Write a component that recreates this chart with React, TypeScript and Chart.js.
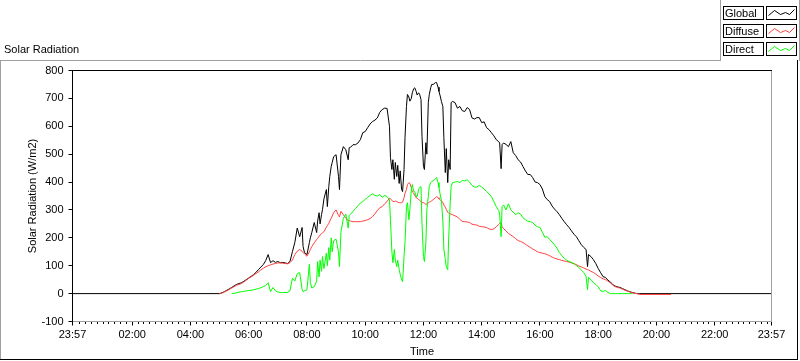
import React, { useEffect, useRef } from "react";
import { Chart, registerables } from "chart.js";

Chart.register(...registerables);

const FONT = "'Liberation Sans', Arial, sans-serif";

const chartTitle = "Solar Radiation";
const yAxisTitle = "Solar Radiation (W/m2)";
const xAxisTitle = "Time";
const seriesNames = ["Global", "Diffuse", "Direct"];
const seriesColors = ["#000000", "#ff3f3f", "#00ff00"];

const axisStart = "23:57"; // previous day
const axisEnd = "23:57";
const xTickLabels = ["23:57", "02:00", "04:00", "06:00", "08:00", "10:00", "12:00", "14:00", "16:00", "18:00", "20:00", "22:00", "23:57"];
const yTickValues = [-100, 0, 100, 200, 300, 400, 500, 600, 700, 800];
const minorTickMinutes = 12;

const times = [
  "05:00", "05:05", "05:10", "05:15", "05:20", "05:25", "05:30", "05:35", "05:40", "05:45", "05:50", "05:55",
  "06:00", "06:05", "06:10", "06:15", "06:20", "06:25", "06:30", "06:35", "06:40", "06:45", "06:50", "06:55",
  "07:00", "07:05", "07:10", "07:15", "07:20", "07:25", "07:30", "07:35", "07:40", "07:45", "07:50", "07:52", "07:55",
  "08:00", "08:05", "08:07", "08:10", "08:15", "08:20", "08:22", "08:25", "08:27", "08:30", "08:32", "08:35", "08:40", "08:42", "08:45", "08:47", "08:50", "08:52", "08:55",
  "09:00", "09:05", "09:07", "09:10", "09:15", "09:20", "09:25", "09:27", "09:30", "09:35", "09:40", "09:45", "09:50", "09:55",
  "10:00", "10:05", "10:10", "10:15", "10:20", "10:25", "10:30", "10:35", "10:40", "10:45", "10:50", "10:52", "10:55", "10:57",
  "11:00", "11:02", "11:05", "11:07", "11:10", "11:12", "11:15", "11:17", "11:20", "11:22", "11:25", "11:27", "11:30", "11:32", "11:35", "11:37", "11:40", "11:42", "11:45", "11:47", "11:50", "11:52", "11:55", "11:57",
  "12:00", "12:02", "12:05", "12:07", "12:10", "12:12", "12:15", "12:17", "12:20", "12:25", "12:27", "12:30", "12:32", "12:35", "12:37", "12:40", "12:42", "12:45", "12:47", "12:50", "12:52", "12:55", "12:57",
  "13:00", "13:05", "13:10", "13:15", "13:20", "13:25", "13:30", "13:35", "13:40", "13:45", "13:50", "13:55",
  "14:00", "14:05", "14:10", "14:15", "14:20", "14:25", "14:30", "14:35", "14:37", "14:40", "14:42", "14:45", "14:50", "14:55",
  "15:00", "15:05", "15:10", "15:15", "15:20", "15:25", "15:30", "15:35", "15:40", "15:45", "15:50", "15:55",
  "16:00", "16:05", "16:10", "16:15", "16:20", "16:25", "16:30", "16:35", "16:40", "16:45", "16:50", "16:55",
  "17:00", "17:05", "17:10", "17:15", "17:20", "17:25", "17:30", "17:35", "17:38", "17:40", "17:45", "17:50", "17:55",
  "18:00", "18:05", "18:10", "18:15", "18:20", "18:25", "18:30", "18:35", "18:40", "18:45", "18:50", "18:55",
  "19:00", "19:05", "19:10", "19:15", "19:20", "19:25", "20:30",
];

const globalValues = [
  0, 3, 7, 12, 17, 22, 28, 33, 36, 39, 44, 50,
  56, 62, 68, 76, 86, 95, 104, 118, 140, 111, 118, 112,
  115, 111, 112, 110, 108, 115, 150, 183, 235, 204, 237, 169, 147,
  140, 183, 200, 219, 255, 219, 260, 290, 250, 283, 301, 340, 373, 312, 384, 420, 456, 470, 491,
  498, 420, 373, 498, 527, 516, 480, 523, 525, 534, 534, 540, 552, 577,
  581, 595, 608, 617, 622, 630, 650, 660, 665, 664, 600, 488, 445, 480,
  410, 470, 420, 460, 395, 440, 373, 366, 445, 560, 671, 714, 705, 690, 700, 720, 735, 738, 725, 712, 720, 715, 696, 563,
  456, 445, 541, 500, 685, 714, 739, 750, 750, 757, 757, 740, 725, 705, 689, 671, 560, 434, 520, 398, 480, 445, 685,
  689, 685, 665, 671, 656, 653, 667, 660, 630, 626, 631, 631,
  613, 616, 595, 588, 577, 566, 552, 545, 540, 448, 534, 540, 535, 527,
  545, 505, 495, 480, 472, 456, 440, 427, 427, 416, 400, 398,
  391, 375, 348, 337, 330, 314, 303, 294, 283, 270, 258, 247,
  237, 225, 213, 204, 190, 176, 166, 158, 97, 140, 133, 122, 108,
  90, 75, 61, 58, 48, 42, 32, 27, 24, 22, 18, 14,
  10, 7, 4, 2, 0, 0, 0,
];

const diffuseValues = [
  0, 2, 6, 10, 15, 20, 25, 30, 33, 36, 42, 48,
  55, 60, 66, 72, 78, 85, 91, 96, 100, 103, 106, 108,
  110, 110, 109, 108, 107, 111, 120, 140, 152, 158, 152, 148, 142,
  134, 150, 158, 169, 182, 194, 198, 205, 210, 215, 218, 222, 238, 244, 252, 260, 270, 278, 290,
  300, 280, 275, 295, 283, 270, 262, 262, 260, 258, 258, 258, 258, 260,
  262, 265, 269, 276, 286, 298, 308, 312, 322, 330, 342, 340, 335, 330,
  330, 332, 330, 328, 326, 326, 326, 328, 344, 360, 373, 391, 398, 395, 380, 365, 360, 352, 344, 342, 337, 335, 330, 326,
  326, 324, 320, 322, 325, 328, 330, 333, 337, 344, 348, 344, 340, 336, 332, 327, 318, 310, 302, 292, 288, 286, 285,
  283, 279, 275, 266, 259, 258, 257, 255, 249, 247, 246, 241,
  240, 239, 237, 232, 230, 232, 240, 248, 252, 255, 240, 233, 225, 216,
  210, 204, 197, 190, 187, 183, 177, 171, 166, 160, 155, 150,
  147, 145, 143, 140, 136, 131, 127, 124, 122, 119, 117, 115,
  113, 110, 107, 104, 99, 96, 92, 88, 86, 85, 80, 76, 70,
  63, 58, 53, 50, 45, 39, 30, 25, 22, 20, 16, 12,
  9, 6, 3, 1, 0, -3, -3,
];

const directValues = [
  null, null, null, null, null, 0, 1, 3, 5, 7, 8, 10,
  11, 12, 14, 16, 18, 21, 25, 29, 39, 7, 22, 10,
  6, 4, 4, 4, 4, 10, 55, 45, 72, 75, 15, 7, 10,
  14, 105, 40, 20, 25, 45, 115, 60, 120, 80, 133, 90, 145, 100, 165, 120, 200, 150, 190,
  195, 150, 97, 220, 270, 285, 235, 280, 285, 295, 305, 315, 325, 330,
  338, 345, 352, 358, 352, 350, 355, 345, 352, 348, 337, 265, 150, 111,
  158, 120, 97, 120, 86, 70, 50, 43, 133, 183, 312, 326, 265, 301, 373, 391, 366, 366, 348, 348, 373, 380, 384, 250,
  133, 115, 183, 300, 348, 384, 398, 402, 405, 412, 416, 398, 380, 350, 335, 260, 160, 122, 97, 86, 200, 320, 384,
  398, 400, 402, 398, 406, 404, 408, 400, 388, 382, 382, 388,
  382, 375, 366, 358, 348, 330, 312, 298, 285, 204, 312, 318, 300, 322,
  300, 292, 283, 290, 285, 272, 265, 260, 258, 255, 245, 240,
  237, 220, 202, 204, 194, 185, 175, 163, 147, 136, 127, 120,
  115, 112, 108, 101, 94, 85, 76, 62, 14, 58, 50, 40, 33,
  24, 10, 8, 11, 4, 0, 0, 0, 0, 0, 0, 0,
  0, 0, 0, null, null, null, null,
];

// Global reads zero at both ends of the time axis (night)
const globalAtAxisEnds = [0, 0];

const toMinutes = (s: string) => {
  const [h, m] = s.split(":").map(Number);
  return h * 60 + m;
};
const xStart = toMinutes(axisStart) - 1440;
const xEnd = toMinutes(axisEnd);
const xTickValues = xTickLabels.map((l, i) =>
  i === 0 ? xStart : i === xTickLabels.length - 1 ? xEnd : toMinutes(l)
);

const points = (vals: (number | null)[]) =>
  times
    .map((t, i) => ({ x: toMinutes(t), y: vals[i] }))
    .filter((p) => p.y !== null);

const GRAY = "#a0a0a0";

const framePlugin = {
  id: "lvFrame",
  beforeDraw(chart: any) {
    const { ctx, width, height } = chart;
    ctx.save();
    ctx.fillStyle = "#ffffff";
    ctx.fillRect(0, 0, width, height);
    ctx.restore();
  },
  afterDraw(chart: any) {
    const { ctx, chartArea: a } = chart;
    const xs = chart.scales.x;
    const L = Math.floor(a.left);
    const R = Math.floor(a.right);
    const T = Math.floor(a.top);
    const B = Math.floor(a.bottom);
    ctx.save();
    ctx.lineWidth = 1;
    const line = (x1: number, y1: number, x2: number, y2: number, c: string) => {
      ctx.strokeStyle = c;
      ctx.beginPath();
      ctx.moveTo(x1, y1);
      ctx.lineTo(x2, y2);
      ctx.stroke();
    };
    // minor ticks
    ctx.strokeStyle = "#000";
    ctx.beginPath();
    for (let m = minorTickMinutes; m < xEnd; m += minorTickMinutes) {
      if (xTickValues.includes(m)) continue;
      const px = Math.floor(xs.getPixelForValue(m)) + 0.5;
      ctx.moveTo(px, B + 1);
      ctx.lineTo(px, B + 3);
    }
    ctx.stroke();
    // plot frame
    line(L + 0.5, T, L + 0.5, B + 1, "#000");
    line(L, T + 0.5, R + 1, T + 0.5, "#000");
    line(L + 1, B + 0.5, R + 1, B + 0.5, GRAY);
    line(R + 0.5, T + 1, R + 0.5, B + 1, GRAY);
    // outer frame
    line(0, 60.5, 721, 60.5, GRAY);
    line(0.5, 60, 0.5, 360, GRAY);
    line(797.5, 60, 797.5, 360, "#000");
    line(0, 359.5, 798, 359.5, "#000");
    line(720.5, 0, 720.5, 61, GRAY);
    line(799.5, 0, 799.5, 61, GRAY);

    // texts
    ctx.fillStyle = "#000";
    ctx.font = `11px ${FONT}`;
    ctx.textBaseline = "middle";
    ctx.textAlign = "left";
    ctx.fillText(chartTitle, 4, 50);
    ctx.textAlign = "center";
    ctx.fillText(xAxisTitle, (a.left + a.right) / 2, 352);
    ctx.save();
    ctx.translate(33, (a.top + a.bottom) / 2);
    ctx.rotate(-Math.PI / 2);
    ctx.fillText(yAxisTitle, 0, 0);
    ctx.restore();

    // legend
    const rowTops = [6, 24, 42];
    const zig = [[2, 9], [8, 4], [14, 8], [19, 6], [23, 8], [28, 3]];
    seriesNames.forEach((name, i) => {
      const t = rowTops[i];
      ctx.strokeStyle = "#000";
      ctx.strokeRect(723.5, t + 0.5, 40, 13);
      ctx.strokeRect(766.5, t + 0.5, 30, 13);
      ctx.fillStyle = "#000";
      ctx.textAlign = "left";
      ctx.fillText(name, 725, t + 7.5);
      ctx.strokeStyle = seriesColors[i];
      ctx.beginPath();
      zig.forEach(([dx, dy], k) => {
        const px = 766.5 + dx;
        const py = t + dy + 0.5;
        if (k === 0) ctx.moveTo(px, py);
        else ctx.lineTo(px, py);
      });
      ctx.stroke();
    });
    ctx.restore();
  },
};

export default function App() {
  const ref = useRef<HTMLCanvasElement | null>(null);
  useEffect(() => {
    if (!ref.current) return;
    const globalData = [
      { x: xStart, y: globalAtAxisEnds[0] },
      ...points(globalValues),
      { x: xEnd, y: globalAtAxisEnds[1] },
    ];
    const chart = new Chart(ref.current, {
      type: "line",
      data: {
        datasets: [
          { label: seriesNames[0], data: globalData, borderColor: seriesColors[0], borderWidth: 1, pointRadius: 0, fill: false, tension: 0, order: 3 },
          { label: seriesNames[1], data: points(diffuseValues), borderColor: seriesColors[1], borderWidth: 1, pointRadius: 0, fill: false, tension: 0, order: 2 },
          { label: seriesNames[2], data: points(directValues), borderColor: seriesColors[2], borderWidth: 1, pointRadius: 0, fill: false, tension: 0, order: 1 },
        ],
      },
      options: {
        responsive: false,
        animation: false,
        devicePixelRatio: 1,
        layout: { padding: { left: 0, top: 70.5, right: 28.5, bottom: 0 } },
        plugins: { legend: { display: false }, tooltip: { enabled: false }, title: { display: false } },
        scales: {
          x: {
            type: "linear",
            min: xStart,
            max: xEnd,
            afterBuildTicks: (s: any) => {
              s.ticks = xTickValues.map((v) => ({ value: v }));
            },
            afterFit: (s: any) => {
              s.height = 39.5;
            },
            ticks: {
              autoSkip: false,
              maxRotation: 0,
              color: "#000",
              padding: 3,
              font: { family: FONT, size: 11 },
              callback: (v: any) => {
                const i = xTickValues.indexOf(Number(v));
                return i >= 0 ? xTickLabels[i] : "";
              },
            },
            grid: { drawOnChartArea: false, drawTicks: true, tickLength: 4, color: "#000" },
            border: { display: false },
          },
          y: {
            type: "linear",
            min: yTickValues[0],
            max: yTickValues[yTickValues.length - 1],
            afterBuildTicks: (s: any) => {
              s.ticks = yTickValues.map((v) => ({ value: v }));
            },
            afterFit: (s: any) => {
              s.width = 72.5;
            },
            ticks: {
              color: "#000",
              padding: 5,
              font: { family: FONT, size: 11 },
              callback: (v: any) => String(v),
            },
            grid: { drawOnChartArea: false, drawTicks: true, tickLength: 4, color: "#000" },
            border: { display: false },
          },
        },
      },
      plugins: [framePlugin],
    } as any);
    return () => chart.destroy();
  }, []);
  return (
    <div style={{ position: "absolute", left: 0, top: 0, width: 800, height: 361 }}>
      <canvas ref={ref} width={800} height={361} style={{ display: "block" }} />
    </div>
  );
}
